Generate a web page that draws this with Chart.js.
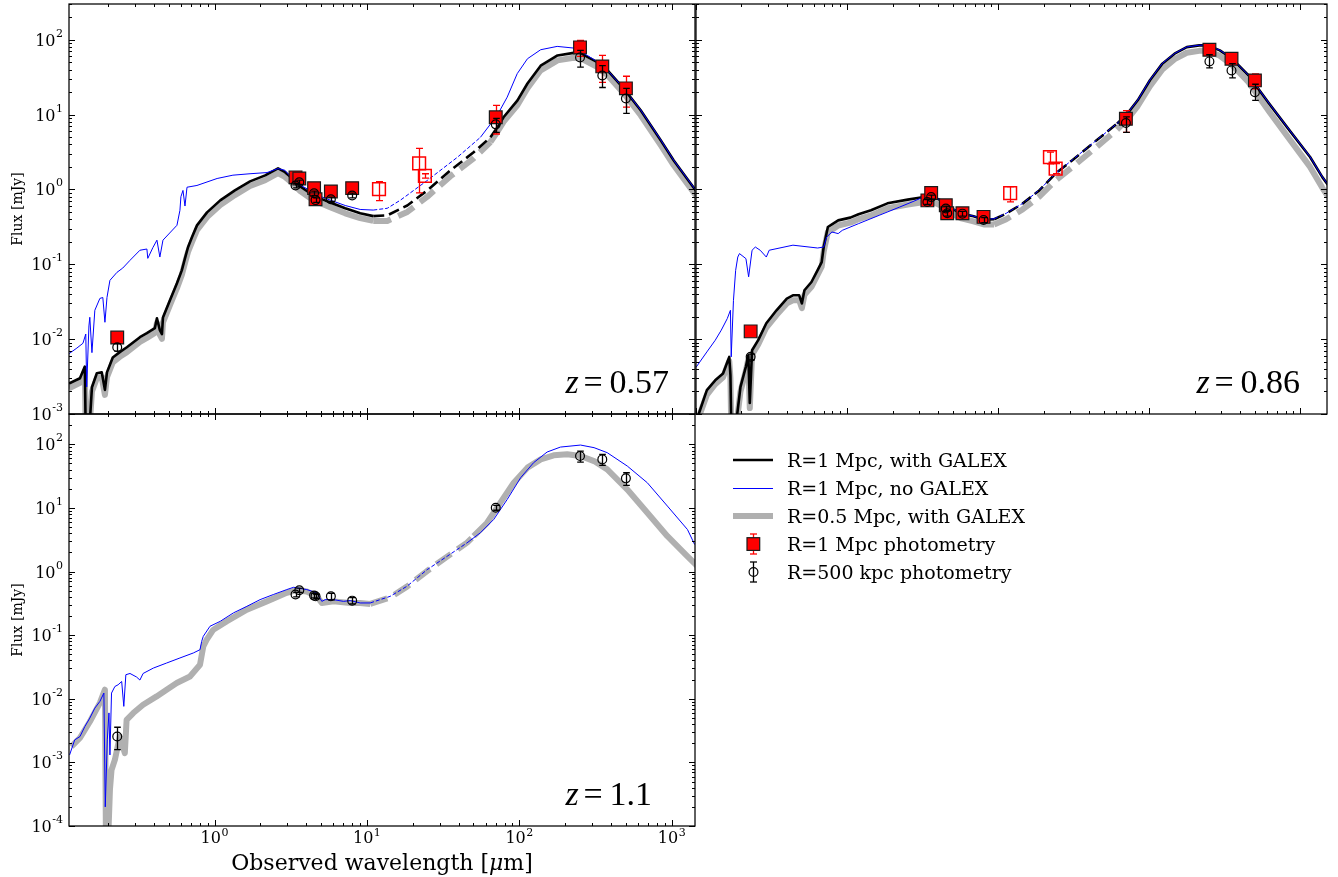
<!DOCTYPE html>
<html><head><meta charset="utf-8">
<script src="https://cdn.jsdelivr.net/npm/chart.js@4.4.1/dist/chart.umd.min.js"></script>
<style>
html,body{margin:0;padding:0;background:#fff;}
#wrap{position:relative;width:1338px;height:877px;overflow:hidden;}
#wrap canvas{position:absolute;left:0;top:0;}
</style></head>
<body><div id="wrap">
<canvas id="c1" width="1338" height="877"></canvas>
<canvas id="c2" width="1338" height="877"></canvas>
<canvas id="c3" width="1338" height="877"></canvas>
</div>
<script>
// ---------------- axis ranges and tick labels ----------------
const xRangeLeft = [0.111, 1420];
const xRangeRight = [0.1, 1500];
const yRangeTop = [0.001, 300];
const yRangeBottom = [0.0001, 300];
const xTickExps = [0, 1, 2, 3];
const yTickExpsTop = [-3, -2, -1, 0, 1, 2];
const yTickExpsBottom = [-4, -3, -2, -1, 0, 1, 2];
const redshiftLabels = ['0.57', '0.86', '1.1'];
const legendLabels = ['R=1 Mpc, with GALEX', 'R=1 Mpc, no GALEX', 'R=0.5 Mpc, with GALEX', 'R=1 Mpc photometry', 'R=500 kpc photometry'];
// interpolated (dashed) wavelength intervals
const dashedTL = [11, 68];
const dashedTR = [9.4, 62];
const dashedBL = [10.5, 52];

// ---------------- z = 0.57 panel ----------------
const tlBlackWl = [0.111,0.131,0.141,0.143,0.150,0.157,0.169,0.182,0.191,0.197,0.215,0.239,0.266,0.324,0.36,0.406,0.419,0.438,0.452,0.459,0.51,0.567,0.61,0.64,0.67,0.711,0.767,0.893,1.09,1.36,1.71,2.15,2.61,2.90,3.23,3.65,4.24,4.93,5.74,7.2,9.03,11.0,13.6,18.4,24.9,35.3,50.1,64.6,71.8,78.7,97.2,113,138,178,227,251,326,379,483,625,846,1030,1436];
const tlBlackF = [0.00255,0.0030,0.0043,0.0005,0.0005,0.00228,0.0035,0.0036,0.0021,0.0036,0.0057,0.0067,0.0078,0.0106,0.012,0.014,0.019,0.0132,0.0117,0.0195,0.033,0.0557,0.083,0.12,0.169,0.229,0.331,0.494,0.714,0.97,1.28,1.54,1.91,1.70,1.41,1.10,0.89,0.76,0.67,0.56,0.48,0.44,0.45,0.61,0.97,1.8,3.13,4.97,6.75,9.2,15.5,26,45,61.6,66.7,66,49.8,38.9,22.4,11.4,4.53,2.44,0.97];
const tlGrayF = [0.0022,0.0026,0.0037,0.0005,0.0005,0.0020,0.0030,0.0031,0.0018,0.0031,0.0049,0.0058,0.0067,0.0092,0.0104,0.0121,0.0165,0.0114,0.0101,0.0168,0.0285,0.048,0.072,0.104,0.146,0.198,0.286,0.427,0.617,0.84,1.11,1.33,1.65,1.47,1.22,0.95,0.77,0.66,0.58,0.48,0.415,0.38,0.38,0.5,0.8,1.5,2.6,4.3,5.9,8.0,13.4,22.5,39,53,57.5,57,43,33.5,19.3,9.8,3.9,2.1,0.84];
const tlBlueWl = [0.111,0.125,0.137,0.143,0.145,0.150,0.152,0.157,0.164,0.177,0.185,0.191,0.197,0.206,0.229,0.250,0.279,0.324,0.360,0.365,0.394,0.419,0.438,0.459,0.567,0.593,0.602,0.621,0.64,0.66,0.767,1.04,1.32,1.71,2.21,2.61,2.90,3.38,4.24,4.93,5.74,7.2,9.03,11.0,13.6,16.6,24.9,39.2,55.5,71.6,83.2,96.8,113,138,177,228,279,341,379,483,625,846,1030,1436];
const tlBlueF = [0.0064,0.0076,0.0088,0.0117,0.0023,0.0150,0.0196,0.0066,0.0243,0.035,0.036,0.0168,0.036,0.061,0.078,0.089,0.113,0.154,0.16,0.12,0.167,0.21,0.125,0.21,0.332,0.526,0.8,0.97,0.6,1.07,1.13,1.4,1.55,1.62,1.68,1.9,1.80,1.24,0.97,0.81,0.72,0.61,0.54,0.53,0.56,0.72,1.32,2.69,4.96,9.8,17.1,35.2,55.7,73.5,81.4,77.3,61.6,47.9,39,22.5,11.5,4.6,2.45,0.98];
const tlRedWl = [0.23,3.4,3.6,4.5,4.6,5.8,8.0,70,250,350,500];
const tlRedF = [0.0105,1.45,1.40,1.04,0.74,0.94,1.04,9.2,79,44,22.4];
const tlRedLo = [0.0095,1.3,1.27,0.95,0.66,0.85,0.92,5.5,60,27,12.6];
const tlRedHi = [0.0115,1.6,1.53,1.13,0.82,1.03,1.16,13.3,98,61.6,32.5];
const tlOpenWl = [12,22,24];
const tlOpenF = [1.01,2.23,1.52];
const tlOpenLo = [0.71,0.9,1.42];
const tlOpenHi = [1.27,3.54,1.62];
const tlCircWl = [0.23,3.4,3.6,4.5,4.6,5.8,8.0,70,250,350,500];
const tlCircF = [0.0078,1.13,1.25,0.89,0.72,0.74,0.83,7.4,58,33.3,16.4];
const tlCircLo = [0.0069,1.05,1.17,0.83,0.67,0.69,0.77,5.8,43,23,10.4];
const tlCircHi = [0.0087,1.21,1.33,0.95,0.77,0.79,0.89,8.9,72,45,22.4];

// ---------------- z = 0.86 panel ----------------
const trBlackWl = [0.102,0.118,0.134,0.151,0.166,0.169,0.171,0.185,0.197,0.214,0.222,0.227,0.235,0.258,0.292,0.341,0.399,0.438,0.482,0.502,0.522,0.581,0.637,0.679,0.700,0.746,0.794,0.873,1.05,1.19,1.44,1.85,2.52,3.24,3.59,4.17,4.72,5.70,6.87,8.04,9.40,11.3,14.5,18.7,24.0,30.8,44.8,61.2,71.6,83.8,101,122,147,177,214,243,293,353,454,621,847,1159,1397,1527];
const trBlackF = [0.00088,0.00208,0.00282,0.00348,0.00578,0.0033,0.0008,0.0008,0.0023,0.0043,0.0061,0.0014,0.0071,0.0097,0.0163,0.0243,0.0348,0.0385,0.0385,0.030,0.045,0.058,0.083,0.107,0.170,0.315,0.342,0.386,0.42,0.466,0.526,0.652,0.731,0.793,0.82,0.714,0.582,0.475,0.437,0.395,0.40,0.475,0.646,0.97,1.63,2.44,4.53,7.57,10.3,15.5,28.7,47.9,65,79.6,84,84,72,55.7,33.3,14,6.15,2.71,1.46,1.14];
const trGrayF = [0.0008,0.0018,0.0025,0.0031,0.0051,0.003,0.0007,0.0007,0.002,0.0038,0.0054,0.0012,0.0062,0.0085,0.0143,0.021,0.030,0.033,0.033,0.026,0.039,0.050,0.072,0.093,0.148,0.27,0.29,0.33,0.36,0.40,0.45,0.56,0.63,0.68,0.70,0.61,0.50,0.41,0.375,0.34,0.34,0.40,0.54,0.80,1.32,1.98,3.7,6.3,8.7,13,24,40,55,67,71,71,61,46,27,11,4.7,2.0,1.05,0.8];
const trBlueWl = [0.1,0.118,0.134,0.147,0.161,0.169,0.171,0.177,0.183,0.189,0.194,0.214,0.223,0.235,0.247,0.266,0.292,0.305,0.438,0.638,0.700,0.732,0.794,0.873,0.929,1.19,1.63,2.23,2.69,3.24,3.59,4.17,4.72,5.70,6.87,8.04,9.40,11.3,14.5,18.7,24.0,30.8,44.8,61.2,71.6,83.8,101,122,147,177,214,243,293,353,454,621,847,1159,1397,1527];
const trBlueF = [0.0042,0.00675,0.00966,0.0132,0.0188,0.0243,0.0058,0.033,0.083,0.125,0.139,0.119,0.068,0.154,0.170,0.154,0.125,0.154,0.180,0.165,0.170,0.231,0.27,0.257,0.284,0.349,0.451,0.582,0.68,0.80,0.83,0.72,0.59,0.48,0.44,0.40,0.405,0.48,0.65,0.98,1.64,2.46,4.56,7.6,10.4,15.6,29,48.3,65.5,80,84.5,84.5,72.5,56,33.5,14.1,6.2,2.73,1.47,1.15];
const trRedWl = [0.23,3.4,3.6,4.5,4.6,5.8,8.0,70,250,350,500];
const trRedF = [0.0127,0.714,0.895,0.614,0.48,0.48,0.43,8.8,73.5,55.7,28.6];
const trRedLo = [0.0115,0.65,0.82,0.56,0.43,0.40,0.37,5.8,66,50,22];
const trRedHi = [0.014,0.78,0.97,0.67,0.53,0.56,0.49,11.3,81,61,35];
const trOpenWl = [12,22,24];
const trOpenF = [0.895,2.71,1.90];
const trOpenLo = [0.68,2.2,1.63];
const trOpenHi = [1.09,3.15,2.22];
const trCircWl = [0.23,3.4,3.6,4.5,4.6,5.8,8.0,70,250,350,500];
const trCircF = [0.0058,0.68,0.79,0.555,0.48,0.475,0.39,7.7,51.3,38.9,19.9];
const trCircLo = [0.0053,0.63,0.74,0.51,0.44,0.44,0.36,5.8,42,31,15.5];
const trCircHi = [0.0063,0.73,0.84,0.60,0.52,0.51,0.42,9.3,63,47.8,25.4];

// ---------------- z = 1.1 panel ----------------
const blBlueWl = [0.112,0.121,0.131,0.141,0.152,0.164,0.177,0.188,0.192,0.198,0.203,0.206,0.211,0.222,0.233,0.246,0.254,0.262,0.279,0.308,0.324,0.340,0.397,0.485,0.593,0.726,0.803,0.824,0.844,0.934,1.09,1.33,1.63,1.99,2.43,2.98,3.30,4.03,4.69,5.06,5.32,6.04,7.02,7.77,9.03,10.5,14.2,18.3,24.8,33.6,45.4,55.5,67.9,83.2,102,124,152,186,252,309,377,511,691,936,1267,1413];
const blBlueF = [0.00131,0.00226,0.00255,0.00366,0.00497,0.00713,0.00908,0.0123,0.0002,0.00226,0.006,0.00131,0.0123,0.0156,0.0166,0.0187,0.0076,0.0239,0.025,0.022,0.0197,0.025,0.0304,0.0365,0.0438,0.0525,0.0591,0.080,0.096,0.138,0.165,0.224,0.284,0.362,0.435,0.521,0.566,0.521,0.463,0.34,0.362,0.362,0.34,0.35,0.321,0.321,0.408,0.587,1.07,1.74,2.83,4.07,6.6,13.6,29.9,51.5,75.7,90.6,97.5,88.7,74,45.5,24.9,10.7,4.58,2.66];
const blGrayWl = [0.115,0.131,0.152,0.177,0.191,0.194,0.200,0.206,0.211,0.222,0.239,0.258,0.265,0.293,0.340,0.417,0.485,0.565,0.690,0.803,0.844,0.889,0.982,1.20,1.63,2.20,2.98,3.38,4.03,4.69,5.06,6.04,7.77,9.03,10.5,14.2,18.3,24.8,33.6,45.4,50.1,61.4,75.1,91.9,113,138,168,206,252,309,377,511,691,936,1267,1510];
const blGrayF = [0.00177,0.00243,0.00435,0.00865,0.0139,0.00005,0.00005,0.00037,0.00076,0.0011,0.00255,0.0014,0.00467,0.00596,0.00805,0.0109,0.0139,0.0177,0.0224,0.0343,0.0667,0.085,0.122,0.165,0.252,0.34,0.463,0.508,0.486,0.408,0.321,0.34,0.321,0.32,0.31,0.39,0.58,1.02,1.72,2.85,3.6,5.85,12.1,24.9,43,58,67.2,69.7,65.5,54.6,40.4,19.5,8.4,3.6,1.74,1.14];
const blCircWl = [0.23,3.4,3.6,4.5,4.6,5.8,8.0,70,250,350,500];
const blCircF = [0.00255,0.435,0.508,0.419,0.408,0.408,0.349,10.1,65.5,58,29.2];
const blCircLo = [0.00159,0.40,0.47,0.385,0.375,0.36,0.31,9.2,52.6,46.7,22.7];
const blCircHi = [0.00357,0.47,0.55,0.455,0.44,0.455,0.39,11,78.5,69.6,35.8];

// ---------------- styles ----------------
const C_BLACK = '#000000', C_BLUE = '#0000ff', C_GRAY = '#b0b0b0', C_RED = '#ff0000';
const SERIF = '"DejaVu Serif", serif';

const zip = (wl, f) => wl.map((w, i) => ({x: w, y: f[i]}));

function curve(wl, f, color, width, dash, gap, order) {
  return {
    data: zip(wl, f), showLine: true, borderColor: color, borderWidth: width,
    pointRadius: 0, pointHoverRadius: 0, pointHitRadius: 0, tension: 0, fill: false,
    borderJoinStyle: 'round', borderCapStyle: 'butt', order: order, clip: 0,
    segment: {
      borderDash: c => (c.p0.parsed.x >= gap[0] * 0.999 && c.p1.parsed.x <= gap[1] * 1.001) ? dash : undefined
    }
  };
}
function markers(wl, f, lo, hi, kind, order) {
  const ds = {data: zip(wl, f), showLine: false, order: order, clip: 0, errLo: lo, errHi: hi, pointHoverRadius: 0};
  if (kind === 'red') {
    Object.assign(ds, {pointStyle: 'rect', pointRadius: 9, pointBackgroundColor: C_RED, pointBorderColor: '#1a1a1a', pointBorderWidth: 1.2, errColor: C_RED, errCap: 3.5});
  } else if (kind === 'open') {
    Object.assign(ds, {pointStyle: 'rect', pointRadius: 9, pointBackgroundColor: 'rgba(0,0,0,0)', pointBorderColor: C_RED, pointBorderWidth: 1.5, errColor: C_RED, errCap: 3.5});
  } else {
    Object.assign(ds, {pointStyle: 'circle', pointRadius: 4.4, pointBackgroundColor: 'rgba(0,0,0,0)', pointBorderColor: C_BLACK, pointBorderWidth: 1.2, errColor: C_BLACK, errCap: 3.3});
  }
  return ds;
}

// ---------------- plugins ----------------
const errBars = {
  id: 'errBars',
  beforeDatasetDraw(chart, args) {
    const ds = chart.data.datasets[args.index];
    if (!ds.errLo) return;
    const {ctx, chartArea: a} = chart;
    const ys = chart.scales.y;
    ctx.save();
    ctx.beginPath(); ctx.rect(a.left, a.top, a.right - a.left, a.bottom - a.top); ctx.clip();
    ctx.strokeStyle = ds.errColor; ctx.lineWidth = 1.3;
    args.meta.data.forEach((pt, i) => {
      const x = Math.round(pt.x) + 0.5;
      const y1 = ys.getPixelForValue(ds.errLo[i]);
      const y2 = ys.getPixelForValue(ds.errHi[i]);
      ctx.beginPath();
      ctx.moveTo(x, y1); ctx.lineTo(x, y2);
      ctx.moveTo(x - ds.errCap, y1); ctx.lineTo(x + ds.errCap, y1);
      ctx.moveTo(x - ds.errCap, y2); ctx.lineTo(x + ds.errCap, y2);
      ctx.stroke();
    });
    ctx.restore();
  }
};

function powLabel(ctx, exp, x, y, mode) {
  const base = '10', sup = String(exp);
  ctx.font = '16px ' + SERIF; const w1 = ctx.measureText(base).width;
  ctx.font = '11px ' + SERIF; const w2 = ctx.measureText(sup).width;
  ctx.fillStyle = '#000'; ctx.textAlign = 'left'; ctx.textBaseline = 'alphabetic';
  if (mode === 'y') {
    const x0 = x - w2 - w1 - 0.5;
    ctx.font = '16px ' + SERIF; ctx.fillText(base, x0, y + 6);
    ctx.font = '11px ' + SERIF; ctx.fillText(sup, x0 + w1 + 0.5, y - 3);
  } else {
    const x0 = x - (w1 + w2 + 0.5) / 2;
    ctx.font = '16px ' + SERIF; ctx.fillText(base, x0, y);
    ctx.font = '11px ' + SERIF; ctx.fillText(sup, x0 + w1 + 0.5, y - 7);
  }
}

function decadeTicks(min, max) {
  const out = [];
  for (let e = Math.floor(Math.log10(min)); e <= Math.ceil(Math.log10(max)); e++) {
    for (let m = 1; m <= 9; m++) {
      const v = m * Math.pow(10, e);
      if (v >= min * 0.9999 && v <= max * 1.0001) out.push({v: v, major: m === 1});
    }
  }
  return out;
}

const sedAxes = {
  id: 'sedAxes',
  afterDraw(chart, args, o) {
    const {ctx, chartArea: a} = chart;
    const xs = chart.scales.x, ys = chart.scales.y;
    ctx.save();
    ctx.strokeStyle = '#000'; ctx.lineWidth = 1;
    const seg = (x1, y1, x2, y2) => { ctx.beginPath(); ctx.moveTo(x1, y1); ctx.lineTo(x2, y2); ctx.stroke(); };
    for (const t of decadeTicks(xs.min, xs.max)) {
      const px = Math.round(xs.getPixelForValue(t.v)) + 0.5;
      const L = t.major ? 6 : 3;
      seg(px, a.bottom, px, a.bottom - L);
      seg(px, a.top, px, a.top + L);
    }
    for (const t of decadeTicks(ys.min, ys.max)) {
      const py = Math.round(ys.getPixelForValue(t.v)) + 0.5;
      const L = t.major ? 6 : 3;
      seg(a.left, py, a.left + L, py);
      seg(a.right, py, a.right - L, py);
    }
    ctx.lineWidth = 1.25;
    ctx.strokeRect(a.left, a.top, a.right - a.left, a.bottom - a.top);

    if (o.yLabels) o.yLabels.forEach(e => powLabel(ctx, e, a.left - 6, ys.getPixelForValue(Math.pow(10, e)), 'y'));
    if (o.xLabels) o.xLabels.forEach(e => powLabel(ctx, e, xs.getPixelForValue(Math.pow(10, e)), a.bottom + 17, 'x'));

    if (o.yTitle) {
      ctx.save();
      ctx.translate(22, (a.top + a.bottom) / 2);
      ctx.rotate(-Math.PI / 2);
      ctx.font = '14px ' + SERIF; ctx.fillStyle = '#000';
      ctx.textAlign = 'center'; ctx.textBaseline = 'alphabetic';
      ctx.fillText('Flux [mJy]', 0, 0);
      ctx.restore();
    }
    if (o.xTitle) {
      const p1 = 'Observed wavelength [', p2 = '\u03bc', p3 = 'm]';
      ctx.font = '22px ' + SERIF; const w1 = ctx.measureText(p1).width, w3 = ctx.measureText(p3).width;
      ctx.font = 'italic 22px ' + SERIF; const w2 = ctx.measureText(p2).width;
      const x0 = (a.left + a.right) / 2 - (w1 + w2 + w3) / 2, yb = 870;
      ctx.fillStyle = '#000'; ctx.textAlign = 'left'; ctx.textBaseline = 'alphabetic';
      ctx.font = '22px ' + SERIF; ctx.fillText(p1, x0, yb);
      ctx.font = 'italic 22px ' + SERIF; ctx.fillText(p2, x0 + w1, yb);
      ctx.font = '22px ' + SERIF; ctx.fillText(p3, x0 + w1 + w2, yb);
    }
    if (o.zText) {
      const zx = a.left + 0.793 * (a.right - a.left), zy = a.bottom - 21;
      ctx.fillStyle = '#000'; ctx.textAlign = 'left'; ctx.textBaseline = 'alphabetic';
      ctx.font = 'italic 34px "Liberation Serif", serif'; ctx.fillText('z', zx, zy);
      ctx.font = '34px "Liberation Serif", serif';
      ctx.fillText('=', zx + 18, zy);
      ctx.fillText(o.zText, zx + 44, zy);
    }
    if (o.legend) {
      const rows = [460, 488, 516, 544, 572];
      const lx0 = 733, lx1 = 773, mx = 753, tx = 787;
      ctx.lineCap = 'butt';
      ctx.strokeStyle = C_BLACK; ctx.lineWidth = 2.6; seg(lx0, rows[0], lx1, rows[0]);
      ctx.strokeStyle = C_BLUE; ctx.lineWidth = 1; seg(lx0, rows[1] + 0.5, lx1, rows[1] + 0.5);
      ctx.strokeStyle = C_GRAY; ctx.lineWidth = 6; seg(lx0, rows[2], lx1, rows[2]);
      // red square with error bar
      ctx.strokeStyle = C_RED; ctx.lineWidth = 1.3;
      seg(mx + 0.5, rows[3] - 10, mx + 0.5, rows[3] + 10);
      seg(mx - 3, rows[3] - 10, mx + 4, rows[3] - 10);
      seg(mx - 3, rows[3] + 10, mx + 4, rows[3] + 10);
      ctx.fillStyle = C_RED; ctx.fillRect(mx - 6, rows[3] - 6.3, 12.7, 12.7);
      ctx.strokeStyle = '#1a1a1a'; ctx.lineWidth = 1.2; ctx.strokeRect(mx - 6, rows[3] - 6.3, 12.7, 12.7);
      // open circle with error bar
      ctx.strokeStyle = C_BLACK; ctx.lineWidth = 1.3;
      seg(mx + 0.5, rows[4] - 10, mx + 0.5, rows[4] + 10);
      seg(mx - 3, rows[4] - 10, mx + 4, rows[4] - 10);
      seg(mx - 3, rows[4] + 10, mx + 4, rows[4] + 10);
      ctx.lineWidth = 1.2; ctx.beginPath(); ctx.arc(mx + 0.5, rows[4], 4.4, 0, Math.PI * 2); ctx.stroke();
      ctx.fillStyle = '#000'; ctx.font = '19px ' + SERIF; ctx.textAlign = 'left'; ctx.textBaseline = 'alphabetic';
      legendLabels.forEach((t, i) => ctx.fillText(t, tx, rows[i] + 7));
    }
    ctx.restore();
  }
};

// ---------------- charts ----------------
function makePanel(id, box, xr, yr, datasets, axOpts) {
  return new Chart(document.getElementById(id), {
    type: 'scatter',
    data: {datasets: datasets},
    options: {
      responsive: false, animation: false, devicePixelRatio: 1, events: [],
      layout: {autoPadding: false, padding: {left: box.left, top: box.top, right: 1338 - box.right, bottom: 877 - box.bottom}},
      plugins: {legend: {display: false}, tooltip: {enabled: false}, sedAxes: axOpts},
      scales: {
        x: {type: 'logarithmic', min: xr[0], max: xr[1], display: false, bounds: 'data'},
        y: {type: 'logarithmic', min: yr[0], max: yr[1], display: false, bounds: 'data'}
      }
    },
    plugins: [errBars, sedAxes]
  });
}

makePanel('c1', {left: 69, top: 4, right: 695, bottom: 414}, xRangeLeft, yRangeTop, [
  curve(tlBlackWl, tlGrayF, C_GRAY, 6, [18, 8], dashedTL, 6),
  curve(tlBlackWl, tlBlackF, C_BLACK, 2.6, [11, 5], dashedTL, 5),
  curve(tlBlueWl, tlBlueF, C_BLUE, 1, [4, 2], dashedTL, 4),
  markers(tlOpenWl, tlOpenF, tlOpenLo, tlOpenHi, 'open', 3),
  markers(tlRedWl, tlRedF, tlRedLo, tlRedHi, 'red', 2),
  markers(tlCircWl, tlCircF, tlCircLo, tlCircHi, 'circ', 1)
], {yLabels: yTickExpsTop, zText: redshiftLabels[0], yTitle: true});

makePanel('c2', {left: 696, top: 4, right: 1327, bottom: 414}, xRangeRight, yRangeTop, [
  curve(trBlackWl, trGrayF, C_GRAY, 6, [18, 8], dashedTR, 6),
  curve(trBlackWl, trBlackF, C_BLACK, 2.6, [11, 5], dashedTR, 5),
  curve(trBlueWl, trBlueF, C_BLUE, 1, [4, 2], dashedTR, 4),
  markers(trOpenWl, trOpenF, trOpenLo, trOpenHi, 'open', 3),
  markers(trRedWl, trRedF, trRedLo, trRedHi, 'red', 2),
  markers(trCircWl, trCircF, trCircLo, trCircHi, 'circ', 1)
], {zText: redshiftLabels[1]});

makePanel('c3', {left: 69, top: 414, right: 695, bottom: 826}, xRangeLeft, yRangeBottom, [
  curve(blGrayWl, blGrayF, C_GRAY, 6, [18, 8], dashedBL, 6),
  curve(blBlueWl, blBlueF, C_BLUE, 1, [4, 2], dashedBL, 4),
  markers(blCircWl, blCircF, blCircLo, blCircHi, 'circ', 1)
], {yLabels: yTickExpsBottom, xLabels: xTickExps, zText: redshiftLabels[2], yTitle: true, xTitle: true, legend: true});
</script>
</body></html>
